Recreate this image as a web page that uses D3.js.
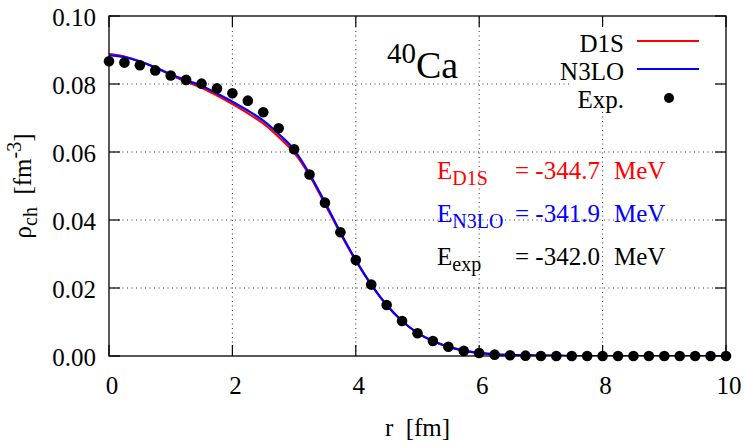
<!DOCTYPE html>
<html>
<head>
<meta charset="utf-8">
<script src="https://cdn.jsdelivr.net/npm/d3@7"></script>
<style>
  body { margin: 0; background: #fff; }
  svg { display: block; font-family: "Liberation Serif", "Times New Roman", serif; }
  text { white-space: pre; }
</style>
</head>
<body>
<svg id="chart" width="744" height="442"></svg>
<script>
// r grid (fm) shared by curves and experimental points
const rValues = d3.range(0, 10.001, 0.25);

const d1s = [0.0888, 0.0881, 0.0867, 0.0848, 0.0827, 0.0807, 0.0789, 0.0766, 0.0741, 0.0714,
  0.0684, 0.0644, 0.0598, 0.0531, 0.0447, 0.0361, 0.0280, 0.0210, 0.0150, 0.0103,
  0.0068, 0.0044, 0.0027, 0.0016, 0.0009, 0.0005, 0.0003, 0.0002, 0.0001, 0.0001,
  0, 0, 0, 0, 0, 0, 0, 0, 0, 0, 0];

const n3lo = [0.0884, 0.0879, 0.0866, 0.0849, 0.0829, 0.0811, 0.0795, 0.0772, 0.0748, 0.0722,
  0.0692, 0.0653, 0.0607, 0.0536, 0.0452, 0.0364, 0.0282, 0.0210, 0.0150, 0.0103,
  0.0068, 0.0044, 0.0027, 0.0016, 0.0009, 0.0005, 0.0003, 0.0002, 0.0001, 0.0001,
  0, 0, 0, 0, 0, 0, 0, 0, 0, 0, 0];

const expData = [0.0867, 0.0863, 0.0855, 0.0840, 0.0825, 0.0812, 0.0801, 0.0787, 0.0773, 0.0751,
  0.0717, 0.0670, 0.0608, 0.0534, 0.0451, 0.0364, 0.0282, 0.0210, 0.0150, 0.0103,
  0.0067, 0.0044, 0.0027, 0.0015, 0.0009, 0.0004, 0.0002, 0.0001, 0, 0,
  0, 0, 0, 0, 0, 0, 0, 0, 0, 0, 0];

const xTicks = [0, 2, 4, 6, 8, 10];
const yTicks = [0, 0.02, 0.04, 0.06, 0.08, 0.10];

const seriesNames = ['D1S', 'N3LO', 'Exp.'];
const energies = [
  { sub: 'D1S', value: '-344.7', color: '#ff0000' },
  { sub: 'N3LO', value: '-341.9', color: '#0000ff' },
  { sub: 'exp', value: '-342.0', color: '#000000' }
];

const margin = { top: 16, right: 18, bottom: 86, left: 109 };
const width = 744, height = 442;

const svg = d3.select('#chart');
const x = d3.scaleLinear().domain([0, 10]).range([margin.left, width - margin.right]);
const y = d3.scaleLinear().domain([0, 0.1]).range([height - margin.bottom, margin.top]);

// grid
const grid = svg.append('g')
  .attr('stroke', '#333').attr('stroke-width', 1).attr('stroke-dasharray', '1,3.5');
grid.selectAll('.gx').data(xTicks.slice(1, -1)).enter().append('line')
  .attr('x1', d => x(d)).attr('x2', d => x(d))
  .attr('y1', y(0)).attr('y2', y(0.1));
grid.selectAll('.gy').data(yTicks.slice(1, -1)).enter().append('line')
  .attr('x1', x(0)).attr('x2', x(10))
  .attr('y1', d => y(d)).attr('y2', d => y(d));

// opaque key box
svg.append('rect').attr('x', 572).attr('y', y(0.1) + 1)
  .attr('width', 141).attr('height', 94).attr('fill', '#fff');

// clip for curves
svg.append('clipPath').attr('id', 'clip').append('rect')
  .attr('x', x(0)).attr('y', y(0.1)).attr('width', x(10) - x(0)).attr('height', y(0) - y(0.1));

const line = d3.line().x((d, i) => x(rValues[i])).y(d => y(d)).curve(d3.curveMonotoneX);

const curves = svg.append('g').attr('clip-path', 'url(#clip)');
curves.append('path').datum(d1s).attr('d', line)
  .attr('fill', 'none').attr('stroke', '#ff0000').attr('stroke-width', 2.2);
curves.append('path').datum(n3lo).attr('d', line)
  .attr('fill', 'none').attr('stroke', '#0000ff').attr('stroke-width', 2.2);

// border + ticks
svg.append('rect').attr('x', x(0)).attr('y', y(0.1))
  .attr('width', x(10) - x(0)).attr('height', y(0) - y(0.1))
  .attr('fill', 'none').attr('stroke', '#000').attr('stroke-width', 1.3);

const tickLen = 11;
const ticks = svg.append('g').attr('stroke', '#000').attr('stroke-width', 1.2);
xTicks.forEach(t => {
  ticks.append('line').attr('x1', x(t)).attr('x2', x(t)).attr('y1', y(0)).attr('y2', y(0) - tickLen);
  ticks.append('line').attr('x1', x(t)).attr('x2', x(t)).attr('y1', y(0.1)).attr('y2', y(0.1) + tickLen);
});
yTicks.forEach(t => {
  ticks.append('line').attr('x1', x(0)).attr('x2', x(0) + tickLen).attr('y1', y(t)).attr('y2', y(t));
  ticks.append('line').attr('x1', x(10)).attr('x2', x(10) - tickLen).attr('y1', y(t)).attr('y2', y(t));
});

// tick labels
svg.selectAll('.xl').data(xTicks).enter().append('text')
  .attr('x', d => x(d) + 3).attr('y', y(0) + 38)
  .attr('text-anchor', 'middle').attr('font-size', 25).text(d => d);
svg.selectAll('.yl').data(yTicks).enter().append('text')
  .attr('x', x(0) - 13).attr('y', d => y(d) + 10)
  .attr('text-anchor', 'end').attr('font-size', 25).text(d => d3.format('.2f')(d));

// experimental points
svg.append('g').selectAll('circle').data(expData).enter().append('circle')
  .attr('cx', (d, i) => x(rValues[i])).attr('cy', d => y(d)).attr('r', 5.3).attr('fill', '#000');

// axis labels
svg.append('text').attr('x', (x(0) + x(10)) / 2).attr('y', 436)
  .attr('text-anchor', 'middle').attr('font-size', 25).text('r  [fm]');

const yl = svg.append('text').attr('transform', `translate(31,${(y(0) + y(0.1)) / 2}) rotate(-90)`)
  .attr('text-anchor', 'middle').attr('font-size', 25);
yl.append('tspan').text('ρ');
yl.append('tspan').attr('font-size', 20).attr('dy', 6).text('ch');
yl.append('tspan').attr('dy', -6).text('  [fm');
yl.append('tspan').attr('font-size', 20).attr('dy', -10).text('-3');
yl.append('tspan').attr('dy', 10).text(']');

// nucleus label
const nuc = svg.append('text').attr('x', 387).attr('y', 78);
nuc.append('tspan').attr('font-size', 29).attr('dy', -15).text('40');
nuc.append('tspan').attr('font-size', 38).attr('dy', 15).text('Ca');

// key
const keyColors = ['#ff0000', '#0000ff'];
seriesNames.forEach((name, i) => {
  const by = 52 + i * 28;
  svg.append('text').attr('x', 624).attr('y', by).attr('text-anchor', 'end')
    .attr('font-size', 25).text(name);
  if (i < 2) {
    svg.append('line').attr('x1', 637).attr('x2', 699).attr('y1', by - 11).attr('y2', by - 11)
      .attr('stroke', keyColors[i]).attr('stroke-width', 2.2);
  } else {
    svg.append('circle').attr('cx', 669).attr('cy', by - 10).attr('r', 5).attr('fill', '#000');
  }
});

// energy labels
energies.forEach((e, i) => {
  const by = 179 + i * 43;
  const t = svg.append('text').attr('x', 437).attr('y', by).attr('fill', e.color).attr('font-size', 25);
  t.append('tspan').text('E');
  t.append('tspan').attr('font-size', 20).attr('dy', 6).text(e.sub);
  svg.append('text').attr('x', 515).attr('y', by).attr('fill', e.color).attr('font-size', 25)
    .text('= ' + e.value);
  svg.append('text').attr('x', 614).attr('y', by).attr('fill', e.color).attr('font-size', 25)
    .text('MeV');
});
</script>
</body>
</html>
